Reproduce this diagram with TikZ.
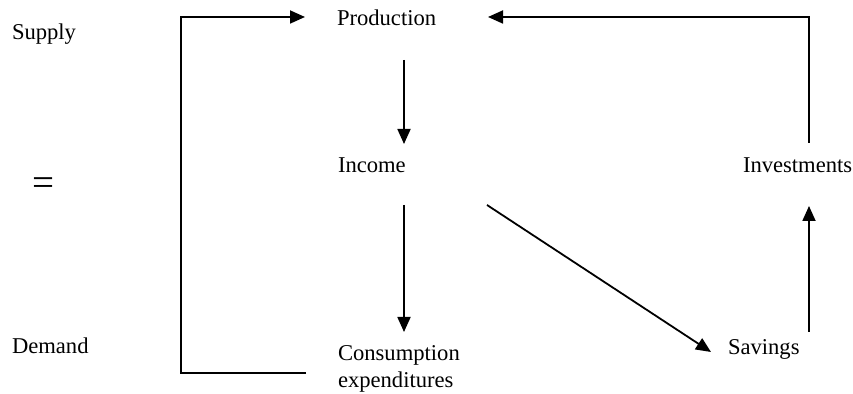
\documentclass[tikz,border=0pt]{standalone}
\usepackage{fontspec}
\setmainfont{Liberation Serif}
\usetikzlibrary{arrows.meta}
\begin{document}
\begin{tikzpicture}[x=0.5pt,y=-0.5pt,
  lbl/.style={inner sep=0pt,outer sep=0pt,anchor=base west,font=\fontsize{11.3}{13.5}\selectfont},
  conn/.style={line width=0.9pt,black},
  arr/.style={conn,-{Triangle[length=7.5pt,width=6.5pt]}}]
\useasboundingbox (0,0) rectangle (853,394);
% labels
\node[lbl] (supply) at (12,40) {Supply};
\node[inner sep=0pt,font=\fontsize{19.5}{20}\selectfont] (eq) at (43,187) {=};
\node[lbl] (demand) at (12,354) {Demand};
\node[lbl] (prod) at (337,26) {Production};
\node[lbl] (inc) at (338,173) {Income};
\node[lbl,align=left] (cons) at (338,388) {Consumption\\expenditures};
\node[lbl] (sav) at (728,355) {Savings};
\node[lbl] (inv) at (743,173) {Investments};
% connector end points
\coordinate (consL) at (306,373);
\coordinate (loopC) at (181,17);
\coordinate (prodL) at (305,17);
\coordinate (prodB) at (404,60);
\coordinate (incT) at (404,144);
\coordinate (incB) at (404,205);
\coordinate (consT) at (404,332);
\coordinate (incR) at (487,205);
\coordinate (savL) at (711,352);
\coordinate (savT) at (809,332);
\coordinate (invB) at (809,206);
\coordinate (invT) at (809,143);
\coordinate (prodR) at (488,17);
% connectors
\draw[arr] (consL) -| (loopC) -- (prodL);
\draw[arr] (prodB) -- (incT);
\draw[arr] (incB) -- (consT);
\draw[arr] (incR) -- (savL);
\draw[arr] (savT) -- (invB);
\draw[arr] (invT) |- (prodR);
\end{tikzpicture}
\end{document}
